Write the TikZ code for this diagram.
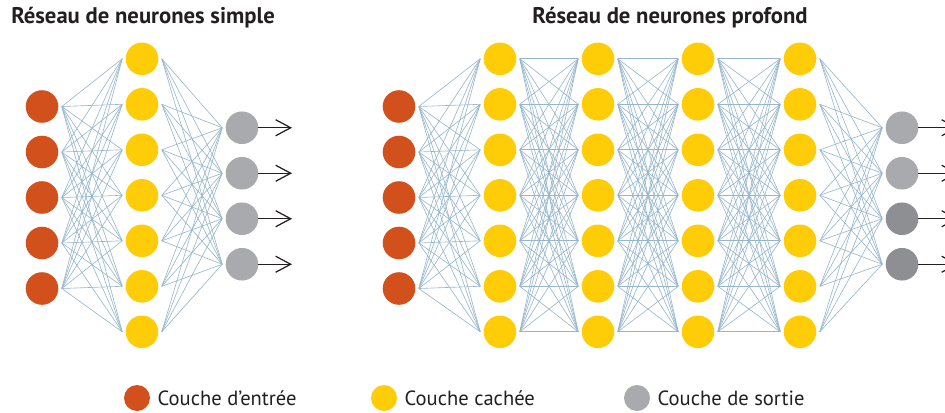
\documentclass[tikz,border=0pt]{standalone}
\usepackage{fontspec}
\setmainfont{PT Sans}
\usetikzlibrary{arrows.meta,positioning}
\definecolor{cin}{RGB}{210,80,28}
\definecolor{chid}{RGB}{254,205,8}
\definecolor{cout}{RGB}{169,170,173}
\definecolor{cout2}{RGB}{142,143,146}
\definecolor{clien}{RGB}{150,182,204}
\definecolor{ctxt}{RGB}{35,31,32}

\begin{document}
\begin{tikzpicture}[
  x=0.02cm, y=-0.02cm,
  neur/.style={circle, minimum size=0.652cm, inner sep=0pt, outer sep=0.07cm},
  ein/.style={neur, fill=cin},
  ver/.style={neur, fill=chid},
  aus/.style={neur, fill=cout},
  lien/.style={draw=clien, line width=0.35pt},
  pf/.style={-{Straight Barb[length=0.3cm, width=0.32cm]}, line width=0.7pt,
             draw=ctxt, shorten <=-0.07cm},
  titre/.style={font=\bfseries\fontsize{12.9}{15}\selectfont, text=ctxt, inner sep=0pt},
  leg/.style={circle, minimum size=0.52cm, inner sep=0pt},
  legtxt/.style={font=\fontsize{11.7}{13}\selectfont, text=ctxt, inner sep=0pt}
]
\clip (0,0) rectangle (945,412);

% Titres
\node[titre, anchor=west] (t1) at (11,18) {Réseau de neurones simple};
\node[titre] (t2) at (670,18) {Réseau de neurones profond};

% Reseau simple
\foreach \i in {1,...,5}
  \node[ein] (se\i) at (42,{197.5+45.5*(\i-3)}) {};
\foreach \j in {1,...,7}
  \node[ver] (sc\j) at (142,{195.3+45.5*(\j-4)}) {};
\foreach \k in {1,...,4} {
  \node[aus] (ss\k) at (242,{196+45.5*(\k-2.5)}) {};
  \coordinate (sf\k) at (292,{196+45.5*(\k-2.5)});
}
\foreach \i in {1,...,5}
  \foreach \j in {1,...,7}
    \draw[lien] (se\i.east) -- (sc\j.west);
\foreach \j in {1,...,7}
  \foreach \k in {1,...,4}
    \draw[lien] (sc\j.east) -- (ss\k.west);
\foreach \k in {1,...,4}
  \draw[pf] (ss\k.east) -- (sf\k);

% Reseau profond
\foreach \i in {1,...,5}
  \node[ein] (pe\i) at (399,{197.5+45.5*(\i-3)}) {};
\foreach \l/\x in {1/500,2/598,3/698,4/800}
  \foreach \j in {1,...,7}
    \node[ver] (pc\l-\j) at (\x,{195.3+45.5*(\j-4)}) {};
\foreach \k/\c in {1/cout,2/cout,3/cout2,4/cout2} {
  \node[aus, fill=\c] (ps\k) at (902,{196+45.5*(\k-2.5)}) {};
  \coordinate (pf\k) at (958,{196+45.5*(\k-2.5)});
}
\foreach \i in {1,...,5}
  \foreach \j in {1,...,7}
    \draw[lien] (pe\i.east) -- (pc1-\j.west);
\foreach \l/\m in {1/2,2/3,3/4}
  \foreach \i in {1,...,7}
    \foreach \j in {1,...,7}
      \draw[lien] (pc\l-\i.east) -- (pc\m-\j.west);
\foreach \j in {1,...,7}
  \foreach \k in {1,...,4}
    \draw[lien] (pc4-\j.east) -- (ps\k.west);
\foreach \k in {1,...,4}
  \draw[pf] (ps\k.east) -- (pf\k);

% Legende
\node[leg, fill=cin] (l1) at (137,398) {};
\node[legtxt, right=0.14cm of l1] (lt1) {Couche d’entrée};
\node[leg, fill=chid] (l2) at (384,398) {};
\node[legtxt, right=0.14cm of l2] (lt2) {Couche cachée};
\node[leg, fill=cout] (l3) at (637,398) {};
\node[legtxt, right=0.14cm of l3] (lt3) {Couche de sortie};

\end{tikzpicture}
\end{document}
